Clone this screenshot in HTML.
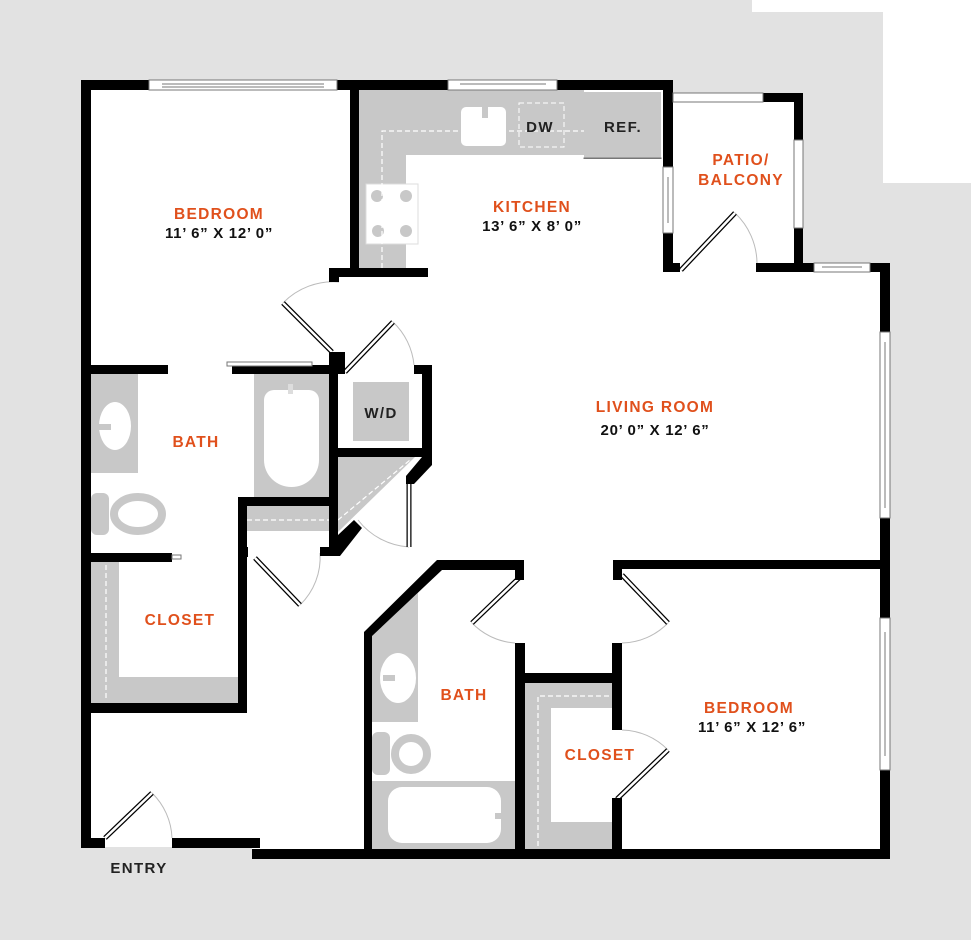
<!DOCTYPE html>
<html><head><meta charset="utf-8"><style>
html,body{margin:0;padding:0;background:#e2e2e2;}
svg{display:block;}
.o{font-family:"Liberation Sans",sans-serif;font-weight:bold;fill:#e0501c;font-size:15.5px;letter-spacing:1.3px;}
.d{font-family:"Liberation Sans",sans-serif;font-weight:bold;fill:#111;font-size:15px;letter-spacing:0.7px;}
.k{font-family:"Liberation Sans",sans-serif;font-weight:bold;fill:#222;font-size:15px;letter-spacing:1.4px;}
</style></head><body>
<svg width="971" height="940" viewBox="0 0 971 940" xmlns="http://www.w3.org/2000/svg">
<rect width="971" height="940" fill="#e2e2e2"/>
<rect x="752" y="0" width="219" height="12" fill="#fff"/>
<rect x="883" y="0" width="88" height="183" fill="#fff"/>
<polygon points="81,80 673,80 673,93 803,93 803,263 890,263 890,858 252,858 252,847 81,847" fill="#fff"/>

<g fill="#c8c8c8">
<rect x="359" y="90" width="225" height="65"/>
<rect x="359" y="90" width="47" height="178"/>
<rect x="584" y="92" width="77" height="66"/>
<rect x="254" y="374" width="75" height="123"/>
<rect x="247" y="506" width="82" height="25"/>
<rect x="91" y="374" width="47" height="99"/>
<rect x="91" y="493" width="18" height="42" rx="6"/>
<rect x="353" y="382" width="56" height="59"/>
<polygon points="338,457 415,457 338,532"/>
<rect x="91" y="562" width="147" height="141"/>
<polygon points="372,633 418,593 418,722 372,722"/>
<rect x="372" y="732" width="18" height="43" rx="6"/>
<rect x="372" y="781" width="143" height="68"/>
<rect x="525" y="683" width="87" height="166"/>
</g>
<g fill="#fff">
<rect x="119" y="562" width="119" height="115"/>
<rect x="551" y="708" width="61" height="114"/>
<rect x="461" y="107" width="45" height="39" rx="5"/>
<rect x="366" y="184" width="52" height="60" stroke="#ddd" stroke-width="1"/>
<path d="M264,400 a10,10 0 0 1 10,-10 h35 a10,10 0 0 1 10,10 v60 a27.5,27 0 0 1 -55,0 z"/>
<ellipse cx="115" cy="426" rx="16" ry="24"/>
<ellipse cx="398" cy="678" rx="18" ry="25"/>
<rect x="388" y="787" width="113" height="56" rx="14"/>
</g>
<rect x="482" y="100" width="6" height="18" fill="#c8c8c8"/>
<rect x="288" y="384" width="5" height="10" fill="#ddd"/>
<rect x="96" y="424" width="15" height="6" fill="#c8c8c8"/>
<rect x="383" y="675" width="12" height="6" fill="#c8c8c8"/>
<rect x="495" y="813" width="9" height="6" fill="#c8c8c8"/>
<g fill="#c8c8c8"><circle cx="377" cy="196" r="6"/><circle cx="406" cy="196" r="6"/><circle cx="378" cy="231" r="6"/><circle cx="406" cy="231" r="6"/></g>
<ellipse cx="138" cy="514" rx="24" ry="17" fill="none" stroke="#c8c8c8" stroke-width="8"/>
<circle cx="411" cy="754" r="16" fill="none" stroke="#c8c8c8" stroke-width="8"/>
<g fill="none" stroke="#fff" stroke-width="1.2" stroke-dasharray="5,3">
<path d="M382,268 V131 H584"/>
<rect x="519" y="103" width="45" height="44" stroke-width="1"/>
<path d="M247,520 H329"/>
<path d="M106,565 V700"/>
<path d="M338,520 L410,460"/>
<path d="M538,846 V696 H612"/>
</g>

<g fill="none" stroke="#bbb" stroke-width="1">
<path d="M283,303 A70,70 0 0 1 339,282"/>
<path d="M393,322 A68,68 0 0 1 414,365"/>
<path d="M358,520 A70,70 0 0 0 409,547"/>
<path d="M300,605 A66,66 0 0 0 320,553"/>
<path d="M152,793 A66,66 0 0 1 172,838"/>
<path d="M472,623 A66,66 0 0 0 515,643"/>
<path d="M668,623 A66,66 0 0 1 622,643"/>
<path d="M668,750 A66,66 0 0 0 622,730"/>
<path d="M735,213 A70,70 0 0 1 757,263"/>
</g>
<g stroke-linecap="butt">
<g stroke="#000" stroke-width="5">
<line x1="283" y1="303" x2="332" y2="352"/>
<line x1="345" y1="372" x2="393" y2="322"/>
<line x1="409" y1="483" x2="409" y2="547"/>
<line x1="255" y1="558" x2="300" y2="605"/>
<line x1="105" y1="838" x2="152" y2="793"/>
<line x1="520" y1="577" x2="472" y2="623"/>
<line x1="622" y1="575" x2="668" y2="623"/>
<line x1="617" y1="799" x2="668" y2="750"/>
<line x1="681" y1="270" x2="735" y2="213"/>
</g>
<g stroke="#fff" stroke-width="2.5">
<line x1="283" y1="303" x2="332" y2="352"/>
<line x1="345" y1="372" x2="393" y2="322"/>
<line x1="409" y1="483" x2="409" y2="547"/>
<line x1="255" y1="558" x2="300" y2="605"/>
<line x1="105" y1="838" x2="152" y2="793"/>
<line x1="520" y1="577" x2="472" y2="623"/>
<line x1="622" y1="575" x2="668" y2="623"/>
<line x1="617" y1="799" x2="668" y2="750"/>
<line x1="681" y1="270" x2="735" y2="213"/>
</g>
</g>

<g fill="#000">
<rect x="81" y="80" width="68" height="10"/>
<rect x="337" y="80" width="111" height="10"/>
<rect x="557" y="80" width="116" height="10"/>
<rect x="81" y="80" width="10" height="767"/>
<rect x="350" y="80" width="9" height="197"/>
<rect x="329" y="268" width="99" height="9"/>
<rect x="329" y="268" width="10" height="14"/>
<rect x="663" y="80" width="10" height="87"/>
<rect x="663" y="233" width="10" height="39"/>
<rect x="663" y="263" width="17" height="9"/>
<rect x="763" y="93" width="40" height="9"/>
<rect x="794" y="93" width="9" height="47"/>
<rect x="794" y="228" width="9" height="44"/>
<rect x="756" y="263" width="58" height="9"/>
<rect x="870" y="263" width="20" height="9"/>
<rect x="880" y="263" width="10" height="69"/>
<rect x="880" y="518" width="10" height="100"/>
<rect x="880" y="770" width="10" height="89"/>
<rect x="81" y="365" width="87" height="9"/>
<rect x="232" y="365" width="113" height="9"/>
<rect x="329" y="352" width="9" height="190"/>
<rect x="329" y="352" width="16" height="22"/>
<rect x="414" y="365" width="18" height="9"/>
<rect x="422" y="365" width="10" height="100"/>
<rect x="338" y="448" width="94" height="9"/>
<polygon points="422,457 432,457 432,465 414,484 406,484 406,476"/>
<polygon points="329,535 338,535 354,520 362,528 340,556 320,556 320,547 329,547"/>
<rect x="238" y="497" width="100" height="9"/>
<rect x="238" y="497" width="9" height="216"/>
<rect x="81" y="703" width="166" height="10"/>
<rect x="238" y="547" width="10" height="10"/>
<rect x="91" y="553" width="81" height="9"/>
<rect x="81" y="838" width="24" height="10"/>
<rect x="172" y="838" width="88" height="10"/>
<rect x="252" y="849" width="638" height="10"/>
<polygon points="437,560 524,560 524,580 515,580 515,570 442,570 372,636 372,858 364,858 364,632"/>
<rect x="515" y="643" width="10" height="215"/>
<rect x="515" y="673" width="107" height="10"/>
<rect x="612" y="643" width="10" height="87"/>
<rect x="612" y="798" width="10" height="60"/>
<rect x="613" y="560" width="277" height="9"/>
<rect x="613" y="560" width="9" height="20"/>
</g>
<g fill="#fff" stroke="#777" stroke-width="1">
<rect x="149" y="80" width="188" height="10"/>
<line x1="162" y1="84" x2="324" y2="84"/><line x1="162" y1="87" x2="324" y2="87"/>
<rect x="448" y="80" width="109" height="10"/>
<line x1="460" y1="84" x2="546" y2="84"/>
<rect x="673" y="93" width="90" height="9"/>
<rect x="663" y="167" width="10" height="66"/>
<line x1="668" y1="177" x2="668" y2="223"/>
<rect x="794" y="140" width="9" height="88"/>
<rect x="814" y="263" width="56" height="9"/>
<line x1="822" y1="267" x2="862" y2="267"/>
<rect x="880" y="332" width="10" height="186"/>
<line x1="885" y1="342" x2="885" y2="508"/>
<rect x="880" y="618" width="10" height="152"/>
<line x1="885" y1="632" x2="885" y2="756"/>
<rect x="227" y="362" width="85" height="4"/>
<rect x="172" y="555" width="9" height="4"/>
<rect x="584" y="158" width="77" height="0.5"/>
</g>

<g text-anchor="middle">
<text class="o" x="219" y="219">BEDROOM</text>
<text class="d" x="219" y="238">11’ 6” X 12’ 0”</text>
<text class="o" x="532" y="212">KITCHEN</text>
<text class="d" x="532" y="231">13’ 6” X 8’ 0”</text>
<text class="o" x="741" y="165">PATIO/</text>
<text class="o" x="741" y="185">BALCONY</text>
<text class="o" x="655" y="412">LIVING ROOM</text>
<text class="d" x="655" y="435">20’ 0” X 12’ 6”</text>
<text class="k" x="381" y="418">W/D</text>
<text class="k" x="540" y="132">DW</text>
<text class="k" x="623" y="132">REF.</text>
<text class="o" x="196" y="447">BATH</text>
<text class="o" x="180" y="625">CLOSET</text>
<text class="o" x="464" y="700">BATH</text>
<text class="o" x="600" y="760">CLOSET</text>
<text class="o" x="749" y="713">BEDROOM</text>
<text class="d" x="752" y="732">11’ 6” X 12’ 6”</text>
<text class="k" x="139" y="873">ENTRY</text>
</g>
</svg>
</body></html>
